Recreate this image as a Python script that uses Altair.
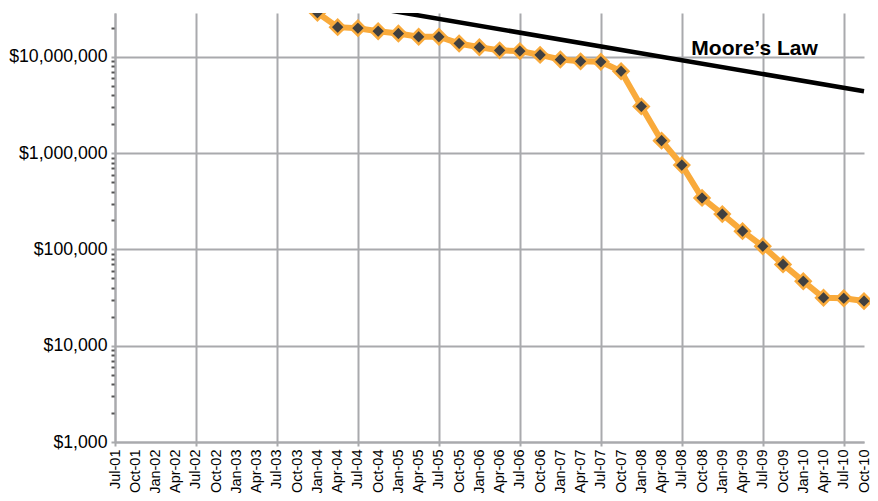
import altair as alt
import pandas as pd

FONT = "Liberation Sans"
GRID = "#a9aaad"
ORANGE = "#f9aa3b"
MARKER = "#404040"

quarters = ["Jul-01", "Oct-01", "Jan-02", "Apr-02", "Jul-02", "Oct-02", "Jan-03", "Apr-03",
            "Jul-03", "Oct-03", "Jan-04", "Apr-04", "Jul-04", "Oct-04", "Jan-05", "Apr-05",
            "Jul-05", "Oct-05", "Jan-06", "Apr-06", "Jul-06", "Oct-06", "Jan-07", "Apr-07",
            "Jul-07", "Oct-07", "Jan-08", "Apr-08", "Jul-08", "Oct-08", "Jan-09", "Apr-09",
            "Jul-09", "Oct-09", "Jan-10", "Apr-10", "Jul-10", "Oct-10"]

cost_quarters = ["Oct-01", "Apr-02", "Oct-02", "Apr-03", "Oct-03",
                 "Jan-04", "Apr-04", "Jul-04", "Oct-04", "Jan-05", "Apr-05", "Jul-05", "Oct-05",
                 "Jan-06", "Apr-06", "Jul-06", "Oct-06", "Jan-07", "Apr-07", "Jul-07", "Oct-07",
                 "Jan-08", "Apr-08", "Jul-08", "Oct-08", "Jan-09", "Apr-09", "Jul-09", "Oct-09",
                 "Jan-10", "Apr-10", "Jul-10", "Oct-10"]
cost_values = [95000000, 70000000, 61000000, 54000000, 40000000,
               28800000, 20400000, 19900000, 18500000, 17500000, 16200000, 16200000, 13800000,
               12600000, 11700000, 11500000, 10500000, 9400000, 9000000, 8900000, 7100000,
               3060000, 1350000, 752000, 343000, 233000, 155000, 108000, 70000,
               46800, 31500, 31100, 29100]

moore_quarters = ["Jul-01", "Oct-10"]
moore_values = [93000000, 4400000]

label_quarter = ["Apr-09"]
label_value = [10500000]
label_text = ["Moore\u2019s Law"]

cost_df = pd.DataFrame({"quarter": cost_quarters, "value": cost_values})
moore_df = pd.DataFrame({"quarter": moore_quarters, "value": moore_values})
label_df = pd.DataFrame({"quarter": label_quarter, "value": label_value, "text": label_text})

y_ticks = [m * 10 ** e for e in range(3, 7) for m in range(1, 10)] + [10000000, 20000000]
major = "(datum.value == 1000 || datum.value == 10000 || datum.value == 100000 || datum.value == 1000000 || datum.value == 10000000)"
is_jul = "indexof(datum.value, 'Jul') == 0"

x_axis = alt.Axis(
    title=None, labelAngle=270, labelAlign="right", labelBaseline="middle",
    labelFontSize=14.5, labelFont=FONT, labelColor="black", labelPadding=3,
    labelOverlap=False, tickSize=4, tickWidth=2, tickColor=GRID,
    tickOpacity={"condition": {"test": is_jul, "value": 1}, "value": 0},
    grid=True, gridColor=GRID, gridWidth=2,
    gridOpacity={"condition": {"test": is_jul, "value": 1}, "value": 0},
    domainColor=GRID, domainWidth=2,
)
y_axis = alt.Axis(
    title=None, values=y_ticks, format="$,.0f",
    labelExpr=major + " ? datum.label : ''",
    labelFontSize=17.7, labelFont=FONT, labelColor="black", labelPadding=4,
    labelOverlap=False, tickSize=4, tickWidth=2,
    tickColor={"condition": {"test": major, "value": GRID}, "value": "#555555"},
    grid=True, gridColor=GRID, gridWidth=2,
    gridOpacity={"condition": {"test": major, "value": 1}, "value": 0},
    domainColor=GRID, domainWidth=2,
)

x_enc = alt.X("quarter:N", sort=quarters,
              scale=alt.Scale(type="point", domain=quarters, padding=0, range=[0, 749]),
              axis=x_axis)
y_enc = alt.Y("value:Q", scale=alt.Scale(type="log", domain=[1000, 28600000]), axis=y_axis)

cost_line = alt.Chart(cost_df).mark_line(color=ORANGE, strokeWidth=6, clip=True).encode(x=x_enc, y=y_enc)
cost_pts = alt.Chart(cost_df).mark_point(
    shape="diamond", filled=True, fill=MARKER, stroke=ORANGE, strokeWidth=2.5,
    size=220, opacity=1, clip=True
).encode(x=x_enc, y=y_enc)
moore = alt.Chart(moore_df).mark_line(color="black", strokeWidth=4.5, clip=True).encode(x=x_enc, y=y_enc)
label = alt.Chart(label_df).mark_text(
    font=FONT, fontSize=21, fontWeight="bold", align="center", baseline="alphabetic",
    color="black", dx=12
).encode(x=x_enc, y=y_enc, text="text:N")

chart = alt.layer(cost_line, cost_pts, moore, label).properties(
    width=755, height=429,
    autosize=alt.AutoSizeParams(type="none"),
    padding={"left": 107, "top": 5, "right": 0, "bottom": 51},
    background="white",
).configure_view(stroke=None)

chart.save("out.html", embed_options={"renderer": "svg", "actions": False})
